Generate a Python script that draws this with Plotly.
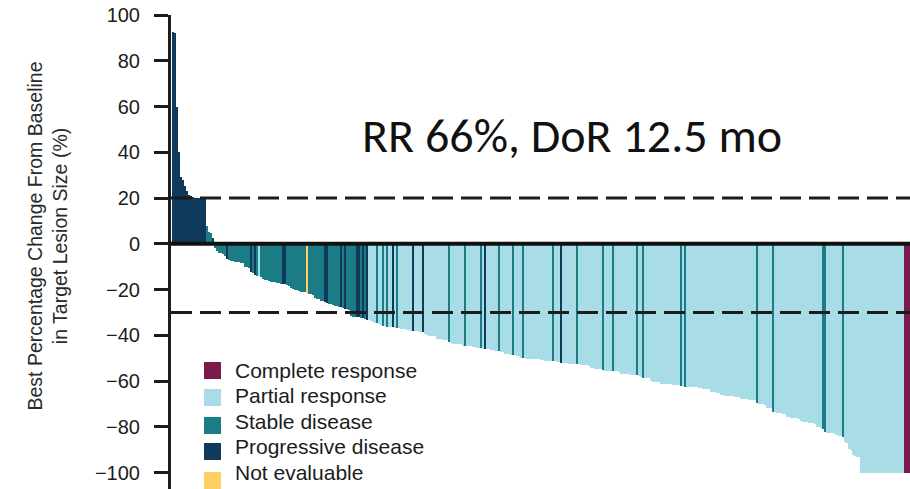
import plotly.graph_objects as go

# Best percentage change from baseline, one value per patient (sorted waterfall)
values = [
    92.5, 92.0, 60.0, 40.0, 29.0, 28.0, 25.3, 23.0, 21.2, 20.8,
    20.4, 20.2, 20.0, 20.0, 19.8, 19.7, 19.5, 7.8, 5.0, 4.8,
    2.4, -2.0, -3.0, -4.0, -4.2, -4.5, -5.3, -6.8, -7.2, -7.5,
    -7.6, -7.8, -7.9, -8.0, -8.2, -8.5, -10.0, -10.3, -10.6, -12.2,
    -12.6, -13.5, -14.0, -14.1, -14.5, -15.5, -15.8, -16.0, -16.3, -16.6,
    -16.7, -16.8, -17.0, -17.2, -17.5, -17.7, -17.8, -18.0, -18.5, -19.5,
    -19.8, -20.0, -20.2, -20.5, -21.0, -21.1, -21.3, -21.5, -22.0, -22.1,
    -22.5, -23.8, -24.0, -24.3, -24.8, -25.0, -25.3, -25.8, -26.3, -26.5,
    -26.8, -27.0, -27.4, -27.6, -27.8, -28.2, -28.4, -28.6, -28.8, -31.5,
    -31.8, -32.0, -32.0, -32.1, -32.3, -32.5, -32.8, -33.2, -33.4, -33.6,
    -34.0, -34.5, -34.8, -35.2, -35.5, -35.8, -36.0, -36.2, -36.4, -36.5,
    -36.6, -36.7, -36.9, -37.0, -37.1, -37.3, -37.4, -37.5, -37.6, -38.0,
    -38.1, -38.2, -38.3, -38.4, -38.5, -38.5, -39.5, -40.0, -40.1, -40.2,
    -40.4, -40.5, -41.5, -41.7, -41.8, -42.0, -42.1, -42.2, -43.0, -43.5,
    -43.6, -43.7, -43.8, -43.9, -44.0, -44.5, -44.6, -44.7, -44.8, -44.9,
    -45.0, -45.0, -45.5, -45.6, -45.7, -45.8, -45.9, -46.0, -46.0, -46.5,
    -46.6, -46.8, -46.9, -47.0, -47.1, -47.2, -48.0, -48.2, -48.4, -48.5,
    -48.6, -48.8, -48.9, -49.0, -50.0, -50.0, -50.1, -50.2, -50.2, -50.3,
    -50.3, -50.4, -50.5, -50.5, -51.0, -51.0, -51.1, -51.2, -51.2, -51.3,
    -51.3, -51.4, -51.5, -51.5, -52.0, -52.1, -52.2, -52.3, -52.4, -52.5,
    -52.5, -52.6, -52.7, -52.7, -53.0, -53.0, -53.1, -53.2, -53.3, -54.5,
    -54.5, -54.6, -54.6, -54.7, -54.8, -55.3, -55.4, -55.5, -55.5, -55.6,
    -55.6, -55.7, -55.8, -55.9, -56.8, -56.9, -57.0, -57.0, -57.1, -57.2,
    -57.3, -57.4, -57.5, -57.6, -58.4, -58.5, -58.6, -58.7, -58.8, -60.2,
    -60.3, -60.4, -60.5, -60.6, -61.3, -61.3, -61.4, -61.4, -61.5, -61.5,
    -61.6, -61.6, -61.7, -61.8, -62.2, -62.3, -62.4, -62.4, -62.5, -62.5,
    -62.6, -62.7, -62.8, -62.9, -63.2, -63.3, -63.4, -63.5, -63.6, -64.8,
    -64.9, -65.0, -65.1, -65.2, -66.2, -66.3, -66.4, -66.5, -66.5, -66.6,
    -66.7, -66.8, -66.9, -67.0, -67.8, -67.9, -68.0, -68.0, -68.1, -68.2,
    -68.3, -68.4, -69.8, -69.9, -70.0, -70.1, -70.3, -71.6, -71.8, -72.0,
    -73.5, -73.7, -73.8, -74.0, -74.1, -74.3, -74.5, -75.6, -75.8, -76.0,
    -76.1, -76.2, -76.3, -76.5, -77.6, -77.8, -78.0, -78.1, -78.2, -78.3,
    -78.5, -78.8, -80.0, -80.3, -80.6, -81.0, -82.4, -82.5, -82.6, -82.7,
    -82.8, -83.0, -83.8, -84.0, -84.1, -84.3, -86.5, -87.2, -89.5, -90.2,
    -92.5, -92.8, -93.0, -93.2, -100, -100, -100, -100, -100, -100,
    -100, -100, -100, -100, -100, -100, -100, -100, -100, -100,
    -100, -100, -100, -100, -100, -100, -100, -100, -100,
]

# Best overall response per patient, same order:
# C = complete, R = partial, S = stable, P = progressive, N = not evaluable
response = list(
    "PPPPPPPPPP" "PPPPPPPSSS" "PSSSSSSPSS" "SSSSSSSSSP" "SPSRSSSSSS"
    "SSSSSPPSSS" "SSSSSSSNSS" "SSSSSSPPSS" "SSSSPSPSSS" "SSPPSPSPRR"
    "RRSRRSRSRR" "PRSRRRRRRR" "PRRRRPRRRR" "RRRRRRRRSR" "RRRRRRSRRR"
    "RRRRSRPRRR" "RRRSRRRRRR" "SRRRRSRRRR" "RRRRRRRRRR" "SRRRPRRRRR"
    "RRSRRRRRRR" "RRRRRSRRRR" "SRRRRRRRRR" "RRSRRSRRRR" "RRRRRRRRRR"
    "RRRRSRSRRR" "RRRRRRRRRR" "RRRRRRRRRR" "RRRRRRRRRR" "RRSRRRRRRR"
    "SRRRRRRRRR" "RRRRRRRRRR" "RRRRRSSRRR" "RRRRRSRRRR" "RRRRRRRRRR"
    "RRRRRRRRRR" "RRRRRRCCC"
)
assert len(values) == len(response)

categories = ["C", "R", "S", "P", "N"]
category_names = ["Complete response", "Partial response", "Stable disease",
                  "Progressive disease", "Not evaluable"]
category_colors = ["#7b1a4e", "#a8dce6", "#1c7c86", "#0f3a5c", "#fdd063"]

y_ticks = [-100, -80, -60, -40, -20, 0, 20, 40, 60, 80, 100]
thresholds = [20, -30]

INK = "#1c1c1c"
AXIS_FONT = "Arial, Liberation Sans, sans-serif"

fig = go.Figure()
for code, name, color in zip(categories, category_names, category_colors):
    idx = [i for i, c in enumerate(response) if c == code]
    fig.add_trace(go.Bar(
        x=idx, y=[values[i] for i in idx], name=name, width=1,
        marker=dict(color=color, line=dict(width=0)),
        showlegend=False, hoverinfo="y",
    ))

# plot-area geometry in pixels (for placing legend and labels)
L, R, T, B = 171, 910, 15, 489
W, H = 910, 489


def px_x(p):
    return (p - L) / (R - L)


def px_y(p):
    return (B - p) / (B - T)


shapes = []
# zero line and dashed response thresholds
shapes.append(dict(type="line", xref="paper", x0=0, x1=1, yref="y", y0=0, y1=0,
                   line=dict(color="#111111", width=4), layer="above"))
for t in thresholds:
    shapes.append(dict(type="line", xref="paper", x0=0, x1=1, yref="y", y0=t, y1=t,
                       line=dict(color=INK, width=3, dash="21px,8px"), layer="above"))

annotations = []
# legend drawn as swatches + labels
sw_left, sw_size, text_left = 204, 17, 233
sw_centers = [370.5, 397.5, 425.5, 451.5, 480.5]
text_centers = [370, 395, 421, 446, 472]
for name, color, sc, tc in zip(category_names, category_colors, sw_centers, text_centers):
    shapes.append(dict(type="rect", xref="paper", yref="paper",
                       x0=px_x(sw_left), x1=px_x(sw_left + sw_size),
                       y0=px_y(sc + sw_size / 2), y1=px_y(sc - sw_size / 2),
                       fillcolor=color, line=dict(width=0), layer="above"))
    annotations.append(dict(text=name, xref="paper", yref="paper",
                            x=px_x(text_left), y=px_y(tc), xanchor="left", yanchor="middle",
                            showarrow=False, font=dict(family=AXIS_FONT, size=21, color=INK)))

# y-axis title
annotations.append(dict(
    text="Best Percentage Change From Baseline<br>in Target Lesion Size (%)",
    xref="paper", yref="paper", x=px_x(47), y=px_y(236.5),
    xanchor="center", yanchor="middle", textangle=-90, showarrow=False,
    font=dict(family=AXIS_FONT, size=19.5, color="#2a2a2a"),
))

# headline result
annotations.append(dict(
    text="RR 66%, DoR 12.5 mo", xref="paper", yref="paper",
    x=px_x(572), y=px_y(135), xanchor="center", yanchor="middle", showarrow=False,
    font=dict(family="Carlito, Calibri, Lato, sans-serif", size=48, color="#111111"),
))

fig.update_layout(
    width=W, height=H,
    margin=dict(l=L, r=W - R, t=T, b=H - B, pad=0),
    paper_bgcolor="white", plot_bgcolor="white",
    barmode="overlay", bargap=0,
    showlegend=False,
    shapes=shapes, annotations=annotations,
    xaxis=dict(visible=False, range=[-1, len(values) - 0.5], fixedrange=True),
    yaxis=dict(
        range=[-107.2, 100], tickvals=y_ticks,
        showgrid=False, zeroline=False,
        showline=True, linecolor=INK, linewidth=3,
        ticks="outside", ticklen=14, tickwidth=3, tickcolor=INK,
        tickfont=dict(family=AXIS_FONT, size=20, color=INK),
        ticklabelstandoff=10,
    ),
)

fig.write_html("out.html")
